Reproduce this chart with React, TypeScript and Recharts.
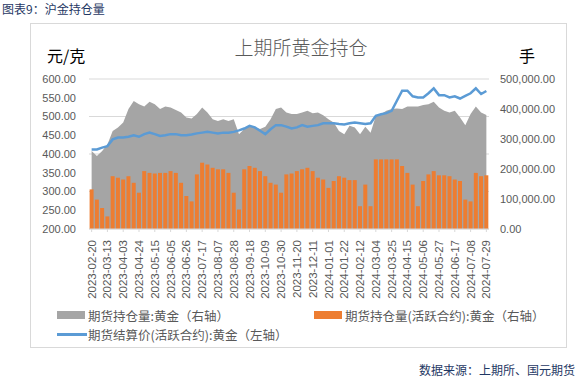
import { Area, Bar, CartesianGrid, ComposedChart, Line, XAxis, YAxis } from "recharts";

// weekly samples, Monday dates
const dates = [
  "2023-02-20", "2023-02-27", "2023-03-06", "2023-03-13", "2023-03-20", "2023-03-27",
  "2023-04-03", "2023-04-10", "2023-04-17", "2023-04-24", "2023-05-01", "2023-05-08",
  "2023-05-15", "2023-05-22", "2023-05-29", "2023-06-05", "2023-06-12", "2023-06-19",
  "2023-06-26", "2023-07-03", "2023-07-10", "2023-07-17", "2023-07-24", "2023-07-31",
  "2023-08-07", "2023-08-14", "2023-08-21", "2023-08-28", "2023-09-04", "2023-09-11",
  "2023-09-18", "2023-09-25", "2023-10-02", "2023-10-09", "2023-10-16", "2023-10-23",
  "2023-10-30", "2023-11-06", "2023-11-13", "2023-11-20", "2023-11-27", "2023-12-04",
  "2023-12-11", "2023-12-18", "2023-12-25", "2024-01-01", "2024-01-08", "2024-01-15",
  "2024-01-22", "2024-01-29", "2024-02-05", "2024-02-12", "2024-02-19", "2024-02-26",
  "2024-03-04", "2024-03-11", "2024-03-18", "2024-03-25", "2024-04-01", "2024-04-08",
  "2024-04-15", "2024-04-22", "2024-04-29", "2024-05-06", "2024-05-13", "2024-05-20",
  "2024-05-27", "2024-06-03", "2024-06-10", "2024-06-17", "2024-06-24", "2024-07-01",
  "2024-07-08", "2024-07-15", "2024-07-22", "2024-07-29",
];

// 期货结算价(活跃合约):黄金, 元/克
const settlePrice = [
  412, 412, 417, 421, 439, 444, 444, 446, 450, 446, 453, 457,
  453, 448, 450, 453, 453, 450, 450, 452, 455, 457, 459, 457,
  455, 457, 457, 459, 463, 468, 475, 471, 462, 453, 466, 477,
  477, 473, 468, 471, 477, 473, 475, 477, 482, 482, 482, 480,
  479, 482, 484, 482, 480, 482, 502, 506, 509, 515, 542, 569,
  569, 554, 551, 551, 562, 575, 557, 557, 551, 554, 548, 555,
  562, 575, 560, 568,
];

// 期货持仓量:黄金, 手
const totalOI = [
  260000, 243000, 260000, 282000, 327000, 338000, 355000, 400000, 427000, 416000, 408000, 424000,
  416000, 400000, 408000, 405000, 397000, 388000, 372000, 368000, 383000, 405000, 388000, 366000,
  360000, 366000, 360000, 366000, 316000, 333000, 346000, 338000, 333000, 341000, 366000, 400000,
  405000, 388000, 383000, 383000, 388000, 394000, 386000, 388000, 379000, 366000, 355000, 327000,
  316000, 344000, 338000, 316000, 341000, 321000, 377000, 383000, 394000, 400000, 402000, 400000,
  408000, 408000, 408000, 413000, 416000, 424000, 405000, 394000, 388000, 394000, 372000, 346000,
  383000, 408000, 388000, 380000,
];

// 期货持仓量(活跃合约):黄金, 手
const activeOI = [
  132000, 98000, 70000, 42000, 176000, 171000, 165000, 176000, 154000, 121000, 193000, 187000,
  185000, 187000, 187000, 193000, 187000, 154000, 110000, 92000, 182000, 221000, 215000, 204000,
  199000, 199000, 187000, 121000, 65000, 199000, 210000, 204000, 193000, 176000, 154000, 148000,
  121000, 182000, 185000, 193000, 199000, 204000, 193000, 171000, 165000, 137000, 160000, 176000,
  171000, 163000, 163000, 76000, 148000, 76000, 232000, 232000, 232000, 232000, 232000, 210000,
  187000, 148000, 76000, 160000, 182000, 193000, 179000, 179000, 176000, 165000, 160000, 98000,
  92000, 187000, 176000, 179000,
];

const leftTicks = [200, 250, 300, 350, 400, 450, 500, 550, 600];
const rightTicks = [0, 50000, 100000, 150000, 200000, 250000, 300000, 350000, 400000, 450000, 500000];

const rows = dates.map((date, i) => ({
  date,
  price: settlePrice[i],
  total: totalOI[i],
  active: activeOI[i],
}));

const CJK = '"Noto Sans CJK SC", "Noto Sans", sans-serif';
const NUM = '"Liberation Sans", Arial, sans-serif';
const axisText = { fontSize: 11, fill: "#595959", fontFamily: NUM };

function DateTick({ x, y, payload }: any) {
  return (
    <g transform={`translate(${x},${y + 8})`}>
      <text transform="rotate(-90)" textAnchor="end" dy="0.35em" fontSize={11.5} fill="#595959" fontFamily={NUM}>
        {payload.value}
      </text>
    </g>
  );
}

function LegendItem({ left, top, kind, label }: { left: number; top: number; kind: "gray" | "orange" | "line"; label: string }) {
  const swatch =
    kind === "line" ? (
      <span style={{ position: "absolute", left: 0, top: 6, width: 30, height: 3, background: "#5B9BD5" }} />
    ) : (
      <span style={{ position: "absolute", left: 0, top: 3, width: 28, height: 8, background: kind === "gray" ? "#A5A5A5" : "#ED7D31" }} />
    );
  return (
    <div style={{ position: "absolute", left, top, height: 16, paddingLeft: 31, fontSize: 12.5, lineHeight: "15px", color: "#595959", fontFamily: CJK, whiteSpace: "nowrap" }}>
      {swatch}
      {label}
    </div>
  );
}

export default function App() {
  return (
    <div style={{ position: "absolute", left: 0, top: 0, width: 578, height: 381, background: "#fff", overflow: "hidden", fontFamily: CJK }}>
      <div style={{ position: "absolute", left: 2, top: 0, fontSize: 12, lineHeight: "17px", color: "#1F3864" }}>图表9：沪金持仓量</div>

      <div style={{ position: "absolute", left: 30, top: 23, width: 537, height: 325, border: "1px solid #D9D9D9", boxSizing: "border-box" }} />

      <div style={{ position: "absolute", left: 0, top: 34, width: 578, textAlign: "center", fontSize: 19, lineHeight: "26px", color: "#595959", fontWeight: 300 }}>
        <span style={{ position: "relative", left: 12 }}>上期所黄金持仓</span>
      </div>
      <div style={{ position: "absolute", left: 47, top: 45, fontSize: 16, lineHeight: "20px", color: "#000" }}>元/克</div>
      <div style={{ position: "absolute", left: 519, top: 45, fontSize: 16, lineHeight: "20px", color: "#000" }}>手</div>

      <div style={{ position: "absolute", left: 0, top: 0 }}>
        <ComposedChart
          width={578}
          height={305}
          data={rows}
          margin={{ top: 79, right: 19, left: 29, bottom: 6 }}
          barCategoryGap={0.6}
        >
          <CartesianGrid yAxisId="left" stroke="#D9D9D9" vertical={false} />
          <XAxis
            dataKey="date"
            interval={2}
            height={70}
            tick={<DateTick />}
            tickSize={3}
            tickMargin={0}
            axisLine={{ stroke: "#D9D9D9" }}
            tickLine={{ stroke: "#D9D9D9" }}
          />
          <YAxis
            yAxisId="left"
            orientation="left"
            width={60}
            domain={[200, 600]}
            ticks={leftTicks}
            allowDataOverflow
            tick={axisText}
            tickSize={0}
            tickMargin={13}
            axisLine={false}
            tickFormatter={(v: number) => v.toFixed(2)}
          />
          <YAxis
            yAxisId="right"
            orientation="right"
            width={70}
            domain={[0, 500000]}
            ticks={rightTicks}
            tick={{ ...axisText, textAnchor: "start" }}
            tickSize={0}
            tickMargin={11}
            axisLine={false}
            tickFormatter={(v: number) => v.toLocaleString("en-US", { minimumFractionDigits: 2, maximumFractionDigits: 2 })}
          />
          <Area
            yAxisId="right"
            type="linear"
            dataKey="total"
            fill="#A5A5A5"
            fillOpacity={1}
            stroke="none"
            isAnimationActive={false}
          />
          <Bar yAxisId="right" dataKey="active" fill="#ED7D31" isAnimationActive={false} />
          <Line
            yAxisId="left"
            type="linear"
            dataKey="price"
            stroke="#5B9BD5"
            strokeWidth={2.5}
            dot={false}
            isAnimationActive={false}
          />
        </ComposedChart>
      </div>

      <LegendItem left={57} top={308} kind="gray" label="期货持仓量:黄金（右轴）" />
      <LegendItem left={314} top={308} kind="orange" label="期货持仓量(活跃合约):黄金（右轴）" />
      <LegendItem left={57} top={327} kind="line" label="期货结算价(活跃合约):黄金（左轴）" />

      <div style={{ position: "absolute", right: 3, top: 361, fontSize: 12, lineHeight: "17px", color: "#1F3864" }}>数据来源：上期所、国元期货</div>
    </div>
  );
}
